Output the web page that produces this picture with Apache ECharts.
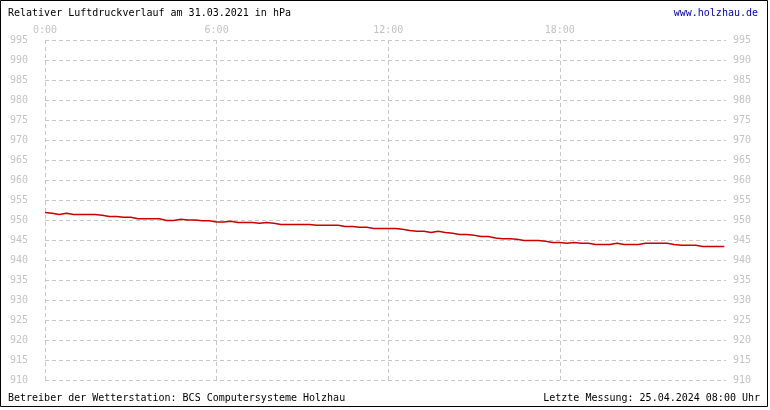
<!DOCTYPE html>
<html>
<head>
<meta charset="utf-8">
<script src="https://cdn.jsdelivr.net/npm/echarts@6/dist/echarts.min.js"></script>
<style>
html,body{margin:0;padding:0;background:#fff;}
#c{width:770px;height:410px;}
</style>
</head>
<body>
<div id="c"></div>
<script>
// Data: relative air pressure (hPa), every 15 minutes, 31.03.2021
const hours = [];
const pressure = [
951.9,951.7,951.4,951.7,951.4,951.4,951.4,951.4,951.2,950.9,
950.9,950.7,950.7,950.3,950.3,950.3,950.3,949.9,949.9,950.2,
950.0,950.0,949.8,949.8,949.5,949.5,949.7,949.4,949.4,949.4,
949.2,949.4,949.2,948.9,948.9,948.9,948.9,948.9,948.7,948.7,
948.7,948.7,948.4,948.4,948.2,948.2,947.9,947.9,947.9,947.9,
947.7,947.4,947.2,947.2,946.9,947.2,946.9,946.7,946.4,946.4,
946.2,945.9,945.9,945.5,945.3,945.3,945.2,944.9,944.9,944.9,
944.7,944.4,944.4,944.2,944.4,944.2,944.2,943.9,943.9,943.9,
944.2,943.9,943.9,943.9,944.2,944.2,944.2,944.2,943.9,943.7,
943.7,943.7,943.4,943.4,943.4,943.4
];
for (let i = 0; i < pressure.length; i++) hours.push(i * 0.25);
const xTicks = [0, 6, 12, 18];
const xTickLabels = ['0:00', '6:00', '12:00', '18:00'];
const yMin = 910, yMax = 995, yStep = 5;
const titleText = 'Relativer Luftdruckverlauf am 31.03.2021 in hPa';
const siteText = 'www.holzhau.de';
const footerLeft = 'Betreiber der Wetterstation: BCS Computersysteme Holzhau';
const footerRight = 'Letzte Messung: 25.04.2024 08:00 Uhr';

const FONT = '"DejaVu Sans Mono", "Liberation Mono", monospace';
const gridColor = '#c8c8c8';
const labelColor = '#c4c4c4';

const chart = echarts.init(document.getElementById('c'), null, {renderer: 'canvas'});
const yAxisCommon = {
  type: 'value', min: yMin, max: yMax, interval: yStep,
  axisLine: {show: false}, axisTick: {show: false},
  splitLine: {show: true, lineStyle: {color: gridColor, type: [4, 3], width: 1}},
  axisLabel: {color: labelColor, fontFamily: FONT, fontSize: 10}
};
chart.setOption({
  animation: false,
  backgroundColor: '#fff',
  grid: {left: 45, right: 44, top: 40, bottom: 30, containLabel: false},
  xAxis: {
    type: 'value', position: 'top', min: 0, max: 23.81, interval: 6,
    axisLine: {show: false}, axisTick: {show: false},
    splitLine: {show: false},
    axisLabel: {color: labelColor, fontFamily: FONT, fontSize: 10, margin: 5,
      formatter: v => { const k = xTicks.indexOf(v); return k >= 0 ? xTickLabels[k] : ''; }}
  },
  yAxis: [
    Object.assign({}, yAxisCommon, {position: 'left', axisLabel: Object.assign({}, yAxisCommon.axisLabel, {margin: 17})}),
    Object.assign({}, yAxisCommon, {position: 'right', splitLine: {show: false}, axisLabel: Object.assign({}, yAxisCommon.axisLabel, {margin: 7})})
  ],
  series: [{
    type: 'line',
    data: hours.map((h, i) => [h, pressure[i]]),
    showSymbol: false,
    lineStyle: {color: '#c80000', width: 1.5},
    itemStyle: {color: '#c80000'},
    z: 5,
    markLine: {
      silent: true, symbol: 'none', label: {show: false},
      lineStyle: {color: gridColor, type: [4, 3], width: 1},
      data: xTicks.map(t => ({xAxis: t})),
      z: 1
    }
  }],
  graphic: [
    {type: 'rect', shape: {x: 0.5, y: 0.5, width: 767, height: 406}, style: {fill: null, stroke: '#000', lineWidth: 1}, silent: true},
    {type: 'text', left: 8, top: 8, style: {text: titleText, fill: '#000', font: '10px ' + FONT}},
    {type: 'text', right: 12, top: 8, style: {text: siteText, fill: '#0000a0', font: '10px ' + FONT}},
    {type: 'text', left: 8, top: 393, style: {text: footerLeft, fill: '#000', font: '10px ' + FONT}},
    {type: 'text', right: 10, top: 393, style: {text: footerRight, fill: '#000', font: '10px ' + FONT}}
  ]
});
</script>
</body>
</html>
